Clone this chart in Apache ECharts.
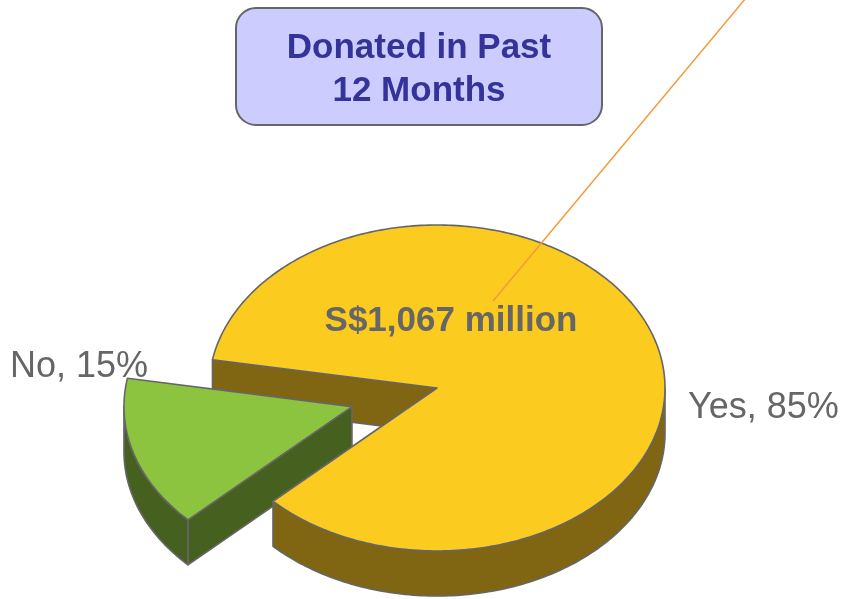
<!DOCTYPE html>
<html><head><meta charset="utf-8">
<script src="https://cdn.jsdelivr.net/npm/echarts@6/dist/echarts.min.js"></script>
<style>html,body{margin:0;padding:0;background:#fff}#c{width:845px;height:599px}</style>
</head><body><div id="c"></div>
<script>
// ---- data ----
const categories = ['Yes', 'No'];
const shares = [85, 15];
const titleLines = ['Donated in Past', '12 Months'];
const amountLabel = 'S$1,067 million';

// ---- layout / style ----
const CX = 437, CY = 388, RX = 228, RY = 163, DEPTH = 45, START = 224;
const EXPLODE = [0, 0.39];
const TOP_COLORS = ['#FCCB1F', '#8CC43F'];
const SIDE_COLORS = ['#806513', '#46611F'];
const EDGE = '#666666';
const FONT = '"Liberation Sans", Arial, sans-serif';
const LABEL_POS = [
  {dx: 251, dy: 20, align: 'left'},
  {dx: -204, dy: -40, align: 'right'}
];

const total = shares.reduce((a, b) => a + b, 0);
const slices = [];
let acc = START;
shares.forEach(v => { const span = v / total * 360; slices.push({a1: acc, a2: acc + span}); acc += span; });

function pt(cx, cy, deg, dy) {
  const r = deg * Math.PI / 180;
  return [cx + RX * Math.cos(r), cy - RY * Math.sin(r) + (dy || 0)];
}
function arc(cx, cy, from, to, dy) {
  const n = Math.max(2, Math.ceil(Math.abs(to - from)));
  const out = [];
  for (let k = 0; k <= n; k++) out.push(pt(cx, cy, from + (to - from) * k / n, dy));
  return out;
}

function renderItem(params, api) {
  const i = params.dataIndex;
  const s = slices[i];
  const e = EXPLODE[i];
  const mid = (s.a1 + s.a2) / 2 * Math.PI / 180;
  const cx = CX + RX * e * Math.cos(mid);
  const cy = CY - RY * e * Math.sin(mid);
  const ex = e > 0;
  const children = [];
  const faceStyle = {fill: SIDE_COLORS[i], stroke: EDGE, lineWidth: 1.6, lineJoin: 'round'};
  function radial(a) {
    const p = pt(cx, cy, a, 0), q = pt(cx, cy, a, DEPTH);
    children.push({type: 'polygon', z2: ex ? 2 : 1, shape: {points: [[cx, cy], p, q, [cx, cy + DEPTH]]}, style: faceStyle});
  }
  if (Math.cos(s.a1 * Math.PI / 180) > 0) radial(s.a1);
  if (Math.cos(s.a2 * Math.PI / 180) < 0) radial(s.a2);
  for (let k = -1; k <= 2; k++) {
    const t1 = Math.max(s.a1, 180 + 360 * k), t2 = Math.min(s.a2, 360 + 360 * k);
    if (t2 > t1) {
      const pts = arc(cx, cy, t1, t2, 0).concat(arc(cx, cy, t2, t1, DEPTH));
      children.push({type: 'polygon', z2: ex ? 3 : 5, shape: {points: pts}, style: faceStyle});
    }
  }
  children.push({type: 'polygon', z2: ex ? 4 : 6,
    shape: {points: [[cx, cy]].concat(arc(cx, cy, s.a1, s.a2, 0))},
    style: {fill: TOP_COLORS[i], stroke: EDGE, lineWidth: 1.6, lineJoin: 'round'}});
  const lp = LABEL_POS[i];
  children.push({type: 'text', z2: 10, style: {
    text: categories[i] + ', ' + api.value(1) + '%', x: cx + lp.dx, y: cy + lp.dy,
    align: lp.align, textAlign: lp.align, verticalAlign: 'middle', textVerticalAlign: 'middle',
    font: '36px ' + FONT, fill: '#666666'}});
  if (i === 0) {
    const lx = cx + 14, ly = cy - 67;
    const sx = lx + 42, sy = ly - 20;
    const slope = 0.835;
    children.push({type: 'line', z2: 9, shape: {x1: sx, y1: sy, x2: sx + (sy + 2) * slope, y2: -2},
      style: {stroke: '#F39A3C', lineWidth: 1.5}});
    children.push({type: 'text', z2: 10, style: {
      text: amountLabel, x: lx, y: ly, align: 'center', textAlign: 'center',
      verticalAlign: 'middle', textVerticalAlign: 'middle',
      font: 'bold 35px ' + FONT, fill: '#666666'}});
  }
  return {type: 'group', children};
}

const chart = echarts.init(document.getElementById('c'), null, {renderer: 'canvas'});
chart.setOption({
  animation: false,
  graphic: [
    {type: 'rect', shape: {x: 236, y: 8, width: 366, height: 117, r: 20},
     style: {fill: '#CCCCFF', stroke: '#666666', lineWidth: 2}},
    {type: 'text', style: {text: titleLines.join('\n'), x: 419, y: 70,
      align: 'center', textAlign: 'center', verticalAlign: 'middle', textVerticalAlign: 'middle',
      font: 'bold 35px ' + FONT, fill: '#333399', lineHeight: 43}}
  ],
  series: [{
    type: 'custom', coordinateSystem: 'none', silent: true,
    data: shares.map((v, i) => [i, v]),
    renderItem
  }]
});
</script></body></html>
